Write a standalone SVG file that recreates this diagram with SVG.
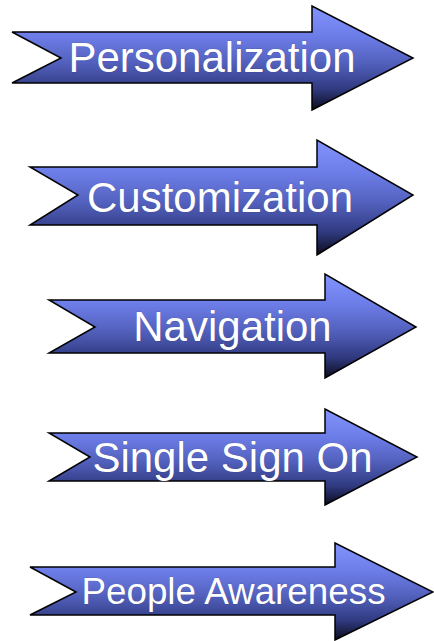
<svg xmlns="http://www.w3.org/2000/svg" width="434" height="641" viewBox="0 0 434 641">
<defs>
<linearGradient id="g" x1="0" y1="0" x2="0" y2="1">
<stop offset="0" stop-color="#8494ff"/>
<stop offset="0.3" stop-color="#6c7ce6"/>
<stop offset="0.55" stop-color="#5260bc"/>
<stop offset="0.8" stop-color="#303a80"/>
<stop offset="1" stop-color="#0c0c1c"/>
</linearGradient>
</defs>
<style>
.a{fill:url(#g);stroke:#000;stroke-width:1.5;stroke-linejoin:miter}
.t{font-family:"Liberation Sans",Arial,sans-serif;fill:#fff;text-anchor:middle;stroke:#20244a;stroke-width:0.6;stroke-opacity:0.4;paint-order:stroke}
</style>
<g id="personalization">
<path class="a" d="M12,32 L312,32 L312,6 L413,58 L312,110 L312,83 L12,83 L61,58 Z"/>
<text class="t" x="212" y="72" font-size="42">Personalization</text>
</g>
<g id="customization">
<path class="a" d="M30,167 L317,167 L317,140 L413,195 L317,255 L317,225 L30,225 L78,195 Z"/>
<text class="t" x="220" y="212" font-size="42">Customization</text>
</g>
<g id="navigation">
<path class="a" d="M49,300 L325,300 L325,274 L416,327 L325,378 L325,353 L49,353 L95,327 Z"/>
<text class="t" x="232.5" y="341" font-size="42">Navigation</text>
</g>
<g id="single-sign-on">
<path class="a" d="M49,433 L325,433 L325,409 L417,457 L325,505 L325,481 L49,481 L90,457 Z"/>
<text class="t" x="232.5" y="472" font-size="42">Single Sign On</text>
</g>
<g id="people-awareness">
<path class="a" d="M30,567 L335,567 L335,543 L433,592 L335,640 L335,615 L30,615 L76,592 Z"/>
<text class="t" x="233.5" y="604" font-size="36.8">People Awareness</text>
</g>
<g id="connectors"/>
</svg>
